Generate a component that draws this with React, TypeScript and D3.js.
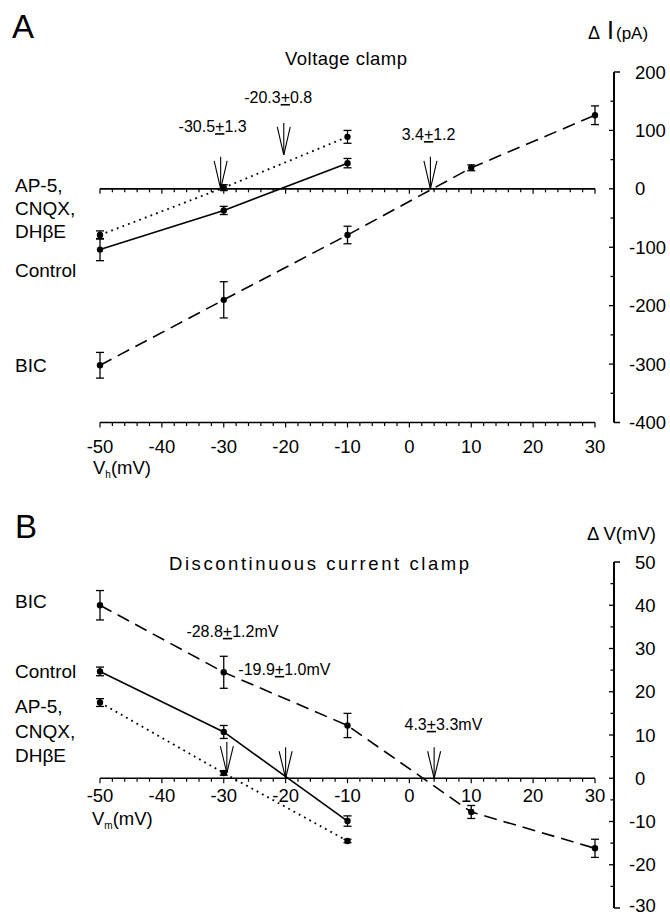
import React from "react";
import * as d3 from "d3";

// ---------- data ----------
const vShort = [-50, -30, -10];
const vLong = [-50, -30, -10, 10, 30];

// Panel A: ΔI (pA)
const aControl = [-104, -37, 44];
const aControlErr = [19, 7, 8];
const aBlocked = [-79, 2, 89];
const aBlockedErr = [7, 5, 11];
const aBic = [-302, -190, -79, 36, 126];
const aBicErr = [22, 31, 15, 5, 16];

// Panel B: ΔV (mV)
const bControl = [24.7, 10.7, -9.9];
const bControlErr = [1.0, 1.5, 1.2];
const bBlocked = [17.5, 1.2, -14.5];
const bBlockedErr = [0.9, 0.5, 0.4];
const bBic = [40.0, 24.5, 12.2, -7.8, -16.2];
const bBicErr = [3.4, 3.7, 2.8, 1.5, 2.1];

const xTickValues = [-50, -40, -30, -20, -10, 0, 10, 20, 30];
const aYTickValues = [200, 100, 0, -100, -200, -300, -400];
const bYTickValues = [50, 40, 30, 20, 10, 0, -10, -20, -30];

// reversal-potential annotations
const aArrowX = [-30.5, -20.3, 3.4];
const aArrowTip = [0, 58, 0];
const aNoteMean = ["-30.5", "-20.3", "3.4"];
const aNoteSem = ["1.3", "0.8", "1.2"];
const aNoteX = [-31.8, -21.2, 3.1];
const aNoteY = [97, 147, 83.5];

const bArrowX = [-29.5, -20, 4.0];
const bArrowTip = [1.2, 0, 0];
const bNoteMean = ["-28.8", "-19.9", "4.3"];
const bNoteSem = ["1.2mV", "1.0mV", "3.3mV"];
const bNoteX = [-28.6, -20.2, 5.5];
const bNoteY = [32.7, 23.9, 11.2];

const blockerLines = ["AP-5,", "CNQX,", "DHβE"];

// ---------- layout ----------
const FONT = "'Liberation Sans', Arial, Helvetica, sans-serif";
const x = d3.scaleLinear().domain([-50, 30]).range([100, 595]);
const yA = d3.scaleLinear().domain([-400, 200]).range([422.5, 72]);
const yB = d3.scaleLinear().domain([-30, 50]).range([908, 562]);
const AXIS_X = 614;

const STYLES = {
  control: { dash: "none", width: 1.6 },
  blocked: { dash: "1.8 4.2", width: 1.8 },
  bic: { dash: "13 7", width: 1.6 },
};

function Series({ xs, ys, errs, y, style }) {
  const line = d3
    .line<number>()
    .x((_, i) => x(xs[i]))
    .y((d) => y(d));
  return (
    <g>
      <path
        d={line(ys) || ""}
        fill="none"
        stroke="#000"
        strokeWidth={style.width}
        strokeDasharray={style.dash}
      />
      {ys.map((v, i) => {
        const cx = x(xs[i]);
        const top = y(v + errs[i]);
        const bot = y(v - errs[i]);
        return (
          <g key={i} stroke="#000" strokeWidth={1.3}>
            <line x1={cx} x2={cx} y1={top} y2={bot} />
            <line x1={cx - 4} x2={cx + 4} y1={top} y2={top} />
            <line x1={cx - 4} x2={cx + 4} y1={bot} y2={bot} />
            <circle cx={cx} cy={y(v)} r={3.2} fill="#000" stroke="none" />
          </g>
        );
      })}
    </g>
  );
}

function XTicks({ yPos }) {
  const minor = d3.range(-50, 30.001, 2);
  return (
    <g stroke="#000">
      <line x1={x(-50)} x2={x(30)} y1={yPos} y2={yPos} strokeWidth={1.6} />
      {minor.map((v) => (
        <line
          key={v}
          x1={x(v)}
          x2={x(v)}
          y1={yPos}
          y2={yPos + (v % 10 === 0 ? 5 : 3.5)}
          strokeWidth={1.2}
        />
      ))}
    </g>
  );
}

function XLabels({ baseline }) {
  return (
    <g fontFamily={FONT} fontSize={18.5} textAnchor="middle">
      {xTickValues.map((v) => (
        <text key={v} x={x(v)} y={baseline}>
          {v}
        </text>
      ))}
    </g>
  );
}

function YAxis({ y, ticks, minorStep }) {
  const d = y.domain();
  const lo = d[0];
  const hi = d[1];
  const minors = d3.range(lo, hi + 0.001, minorStep);
  return (
    <g>
      <g stroke="#000">
        <line x1={AXIS_X} x2={AXIS_X} y1={y(hi)} y2={y(lo)} strokeWidth={2} />
        {minors.map((v) => {
          if (v === lo || v === hi) {
            return (
              <line key={v} x1={AXIS_X} x2={AXIS_X + 6} y1={y(v)} y2={y(v)} strokeWidth={1.5} />
            );
          }
          const major = ticks.includes(v);
          return (
            <line
              key={v}
              x1={AXIS_X - (major ? 5 : 3.5)}
              x2={AXIS_X}
              y1={y(v)}
              y2={y(v)}
              strokeWidth={1.3}
            />
          );
        })}
      </g>
      <g fontFamily={FONT} fontSize={18.5}>
        {ticks.map((v) => (
          <text key={v} x={v < 0 ? AXIS_X + 15 : AXIS_X + 21} y={Math.min(y(v) + 6.5, 912)}>
            {v < 0 ? "-" + Math.abs(v) : String(v)}
          </text>
        ))}
      </g>
    </g>
  );
}

function Arrow({ xv, tipY, len }) {
  const cx = x(xv);
  const wing = len - 4;
  return (
    <g stroke="#000" strokeWidth={1.1} fill="none">
      <line x1={cx} x2={cx} y1={tipY - len} y2={tipY} />
      <polyline points={`${cx - 6.5},${tipY - wing} ${cx},${tipY} ${cx + 6.5},${tipY - wing}`} />
    </g>
  );
}

function Note({ px, py, mean, sem }) {
  return (
    <text x={px} y={py} fontFamily={FONT} fontSize={16} textAnchor="middle">
      {mean}
      <tspan style={{ textDecoration: "underline" }}>+</tspan>
      {sem}
    </text>
  );
}

function BlockerLabel({ baselines }) {
  return (
    <g fontFamily={FONT} fontSize={19}>
      {blockerLines.map((t, i) => (
        <text key={t} x={15} y={baselines[i]}>
          {t}
        </text>
      ))}
    </g>
  );
}

export default function App() {
  return (
    <svg width={670} height={915} style={{ position: "absolute", left: 0, top: 0, background: "#fff" }}>
      <rect width={670} height={915} fill="#fff" />

      {/* ---------------- Panel A ---------------- */}
      <text x={12} y={38} fontFamily={FONT} fontSize={33}>A</text>
      <text x={346} y={65} fontFamily={FONT} fontSize={18.5} textAnchor="middle" textLength={122} lengthAdjust="spacing">
        Voltage clamp
      </text>
      <text x={588} y={39} fontFamily={FONT}>
        <tspan fontSize={18}>Δ</tspan>
        <tspan fontSize={25} dx={7}>I</tspan>
        <tspan fontSize={17} dx={2}>(pA)</tspan>
      </text>

      <XTicks yPos={yA(0)} />
      <XTicks yPos={yA(-400)} />
      <XLabels baseline={453} />
      <text x={93} y={474} fontFamily={FONT} fontSize={18.5}>
        V<tspan fontSize={10} dy={4}>h</tspan>
        <tspan dy={-4}>(mV)</tspan>
      </text>
      <YAxis y={yA} ticks={aYTickValues} minorStep={50} />

      <Series xs={vShort} ys={aBlocked} errs={aBlockedErr} y={yA} style={STYLES.blocked} />
      <Series xs={vShort} ys={aControl} errs={aControlErr} y={yA} style={STYLES.control} />
      <Series xs={vLong} ys={aBic} errs={aBicErr} y={yA} style={STYLES.bic} />

      {aArrowX.map((v, i) => (
        <Arrow key={i} xv={v} tipY={yA(aArrowTip[i])} len={32} />
      ))}
      {aNoteMean.map((m, i) => (
        <Note key={i} px={x(aNoteX[i])} py={yA(aNoteY[i])} mean={m} sem={aNoteSem[i]} />
      ))}

      <BlockerLabel baselines={[192, 215, 238]} />
      <text x={15} y={277} fontFamily={FONT} fontSize={19}>Control</text>
      <text x={15} y={372} fontFamily={FONT} fontSize={19}>BIC</text>

      {/* ---------------- Panel B ---------------- */}
      <text x={15} y={538} fontFamily={FONT} fontSize={33}>B</text>
      <text x={319} y={570} fontFamily={FONT} fontSize={18.5} textAnchor="middle" textLength={300} lengthAdjust="spacing">
        Discontinuous current clamp
      </text>
      <text x={587} y={540} fontFamily={FONT} fontSize={18.5}>
        Δ V(mV)
      </text>

      <XTicks yPos={yB(0)} />
      <XLabels baseline={802} />
      <text x={92} y={825} fontFamily={FONT} fontSize={18.5}>
        V<tspan fontSize={10} dy={4}>m</tspan>
        <tspan dy={-4}>(mV)</tspan>
      </text>
      <YAxis y={yB} ticks={bYTickValues} minorStep={5} />

      <Series xs={vShort} ys={bBlocked} errs={bBlockedErr} y={yB} style={STYLES.blocked} />
      <Series xs={vShort} ys={bControl} errs={bControlErr} y={yB} style={STYLES.control} />
      <Series xs={vLong} ys={bBic} errs={bBicErr} y={yB} style={STYLES.bic} />

      {bArrowX.map((v, i) => (
        <Arrow key={i} xv={v} tipY={yB(bArrowTip[i])} len={31} />
      ))}
      {bNoteMean.map((m, i) => (
        <Note key={i} px={x(bNoteX[i])} py={yB(bNoteY[i])} mean={m} sem={bNoteSem[i]} />
      ))}

      <text x={15} y={608} fontFamily={FONT} fontSize={19}>BIC</text>
      <text x={15} y={678} fontFamily={FONT} fontSize={19}>Control</text>
      <BlockerLabel baselines={[713, 737.5, 762]} />
    </svg>
  );
}
